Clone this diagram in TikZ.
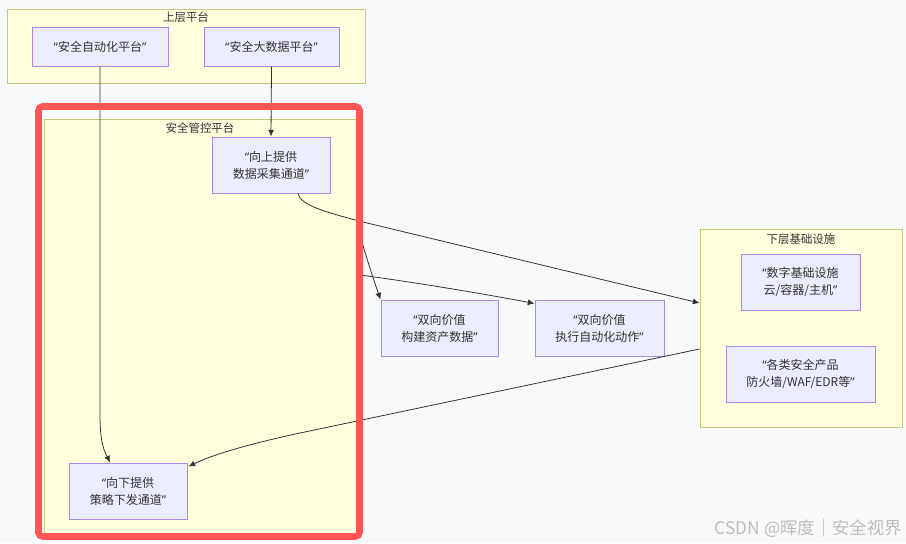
\documentclass[tikz,border=0pt]{standalone}
\usepackage{fontspec}
\setmainfont{Noto Sans CJK SC}
\newfontfamily\latf{Noto Sans}
\usetikzlibrary{arrows.meta,calc}
\definecolor{bgc}{HTML}{F8F9FB}
\definecolor{clfill}{HTML}{FFFFDE}
\definecolor{clline}{HTML}{C9C97A}
\definecolor{ndfill}{HTML}{ECECFF}
\definecolor{ndline}{HTML}{A98BE3}
\definecolor{txtc}{HTML}{333333}
\definecolor{edgec}{HTML}{333333}
\definecolor{hlred}{HTML}{FF5555}
\definecolor{wmark}{HTML}{BDBDBD}
\newcommand\oq{{\latf “}}
\newcommand\cq{{\latf ”}}
\tikzset{
  cluster/.style={draw=clline, fill=clfill, line width=0.75pt, inner sep=0pt},
  cltitle/.style={text=txtc, font=\fontsize{8.6}{10}\selectfont, inner sep=0pt},
  nodebox/.style={draw=ndline, fill=ndfill, line width=0.75pt, text=txtc,
    font=\fontsize{9}{12.75}\selectfont, align=center, inner sep=0pt},
  edge/.style={draw=edgec, line width=0.6pt, -{Latex[length=5pt,width=4.5pt]}}
}
\begin{document}
\begin{tikzpicture}[x=0.75pt,y=-0.75pt]
\fill[bgc] (0,0) rectangle (906,543);
\useasboundingbox (0,0) rectangle (906,543);

% clusters
\node[cluster, minimum width=268.5pt, minimum height=55.5pt] (upper) at (186,46) {};
\node[cltitle] (uppert) at ($(upper.north)+(0,9)$) {上层平台};
\node[cluster, minimum width=234pt, minimum height=310.5pt] (mgmt) at (200,326) {};
\node[cltitle] (mgmtt) at ($(mgmt.north)+(0,10)$) {安全管控平台};
\node[cluster, minimum width=151.5pt, minimum height=148.5pt] (lower) at (801,328) {};
\node[cltitle] (lowert) at ($(lower.north)+(0,11)$) {下层基础设施};

% nodes
\node[nodebox, minimum width=102pt, minimum height=29.25pt] (auto) at (100,46.5) {\oq 安全自动化平台\cq};
\node[nodebox, minimum width=101.25pt, minimum height=29.25pt] (bigdata) at (271.5,46.5) {\oq 安全大数据平台\cq};
\node[nodebox, minimum width=88.5pt, minimum height=42pt] (up) at (271,165) {\oq 向上提供\\数据采集通道\cq};
\node[nodebox, minimum width=88.5pt, minimum height=42pt] (down) at (128,491) {\oq 向下提供\\策略下发通道\cq};
\node[nodebox, minimum width=87.75pt, minimum height=42pt] (asset) at (439.5,328) {\oq 双向价值\\构建资产数据\cq};
\node[nodebox, minimum width=96.75pt, minimum height=42pt] (action) at (599.5,328) {\oq 双向价值\\执行自动化动作\cq};
\node[nodebox, minimum width=89.25pt, minimum height=42pt] (infra) at (800.5,282) {\oq 数字基础设施\\云/容器/主机\cq};
\node[nodebox, minimum width=111.75pt, minimum height=42pt] (prod) at (800.5,374) {\oq 各类安全产品\\防火墙/WAF/EDR等\cq};

% connector end points
\coordinate (e1end) at ($(down.north)+(-18,0)$);
\coordinate (e3start) at ($(up.south)+(27,0)$);
\coordinate (e3end) at ($(lower.west)+(0,-25)$);
\coordinate (e4start) at ($(mgmt.north east)+(0,105)$);
\coordinate (e5start) at ($(mgmt.north east)+(0,156)$);
\coordinate (e5end) at ($(action.north west)+(0,4)$);
\coordinate (e6start) at ($(lower.west)+(0,21)$);
\coordinate (e6end) at ($(down.north east)+(1,4)$);

% connectors
\draw[edge] (auto.south) -- (100,415) .. controls (100,445) and (105,452) .. (e1end);
\draw[edge] (bigdata.south) -- (up.north);
\draw[edge] (e3start) .. controls (300,205) and (325,212) .. (363,222) -- (e3end);
\draw[edge] (e4start) .. controls (364,250) and (373,278) .. (asset.north west);
\draw[edge] (e5start) .. controls (420,283) and (490,295) .. (e5end);
\draw[edge] (e6start) -- (300,433) .. controls (240,446) and (210,456) .. (e6end);

% highlight frame
\node[draw=hlred, line width=4.9pt, rounded corners=3pt, minimum width=240.75pt, minimum height=322.5pt, inner sep=0pt] (hl) at (199,321.5) {};

% watermark
\node[anchor=east, text=wmark, font=\fontsize{13}{15}\selectfont, inner sep=0pt] (wm) at (902,528) {CSDN @晖度｜安全视界};
\end{tikzpicture}
\end{document}
